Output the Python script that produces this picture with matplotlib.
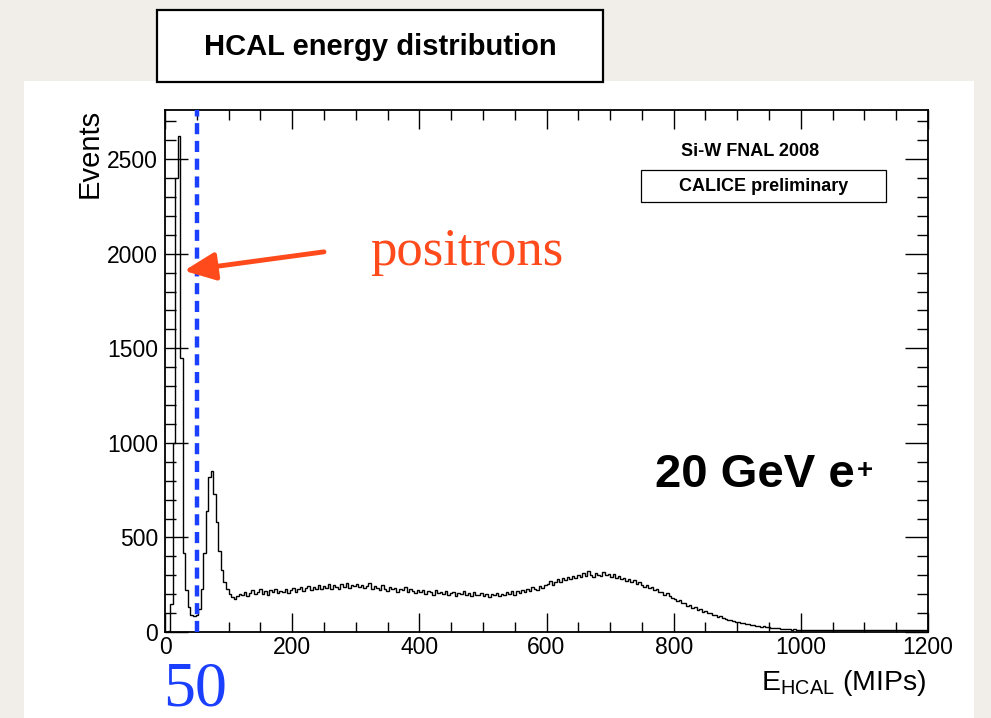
import numpy as np
import matplotlib
matplotlib.use('Agg')
from matplotlib import pyplot as plt
from matplotlib.patches import Rectangle

plt.rcParams['font.family'] = ['Liberation Sans', 'DejaVu Sans']
plt.rcParams['mathtext.fontset'] = 'custom'
plt.rcParams['mathtext.rm'] = 'Liberation Sans'
plt.rcParams['mathtext.bf'] = 'Liberation Sans:bold'

# histogram, 4 MIP bins, 0..1200
bin_width = 4
ev_0_120 = [0, 5, 150, 1000, 2400, 2625, 1450, 420, 220, 130,
            90, 82, 88, 120, 230, 420, 640, 820, 850, 730,
            580, 430, 330, 265, 225, 200, 185, 176, 188, 200]
ev_120_200 = [196, 212, 188, 205, 221, 199, 210, 226, 203, 215,
              198, 224, 209, 230, 206, 219, 212, 228, 204, 222]
ev_200_300 = [231, 209, 226, 238, 215, 232, 244, 221, 236, 228, 250, 226, 241,
              233, 256, 230, 247, 238, 226, 252, 240, 258, 234, 247, 243]
ev_300_400 = [255, 236, 249, 231, 244, 260, 228, 241, 235, 222, 246, 230, 219,
              238, 226, 233, 214, 229, 221, 236, 211, 225, 218, 207, 223]
ev_400_500 = [212, 224, 203, 217, 209, 198, 221, 206, 214, 200, 219, 195, 208,
              213, 192, 207, 201, 215, 196, 204, 189, 210, 198, 193, 205]
ev_500_600 = [190, 202, 186, 199, 194, 207, 188, 201, 196, 211, 203, 215, 198,
              219, 208, 224, 213, 230, 217, 236, 226, 222, 241, 233, 248]
ev_600_700 = [256, 271, 249, 265, 278, 262, 284, 273, 291, 279, 296, 286, 303,
              292, 311, 298, 322, 301, 289, 314, 304, 296, 318, 299, 307]
ev_700_800 = [291, 309, 283, 296, 279, 288, 270, 281, 262, 274, 256, 265, 248,
              240, 251, 233, 238, 222, 229, 210, 214, 198, 204, 189, 182]
ev_800_900 = [176, 163, 168, 151, 155, 140, 143, 128, 131, 118, 121, 107, 110,
              98, 101, 88, 91, 80, 82, 72, 70, 64, 66, 57, 55]
ev_900_1000 = [52, 46, 49, 41, 43, 37, 38, 32, 34, 28, 30, 25, 27,
               22, 23, 19, 21, 17, 18, 15, 16, 13, 15, 12, 13]
ev_1000_1100 = [12, 10, 13, 9, 11, 12, 8, 11, 10, 13, 9, 10, 12,
                8, 11, 10, 9, 12, 10, 8, 11, 9, 12, 10, 9]
ev_1100_1200 = [11, 8, 10, 12, 9, 10, 8, 11, 13, 9, 10, 8, 11,
                9, 12, 10, 8, 11, 9, 10, 12, 9, 11, 8, 10]

events = (ev_0_120 + ev_120_200 + ev_200_300 + ev_300_400 + ev_400_500 +
          ev_500_600 + ev_600_700 + ev_700_800 + ev_800_900 + ev_900_1000 +
          ev_1000_1100 + ev_1100_1200)
edges = np.arange(0, bin_width * len(events) + 1, bin_width)

cut = 50
x_max = 1200
y_max = 2760

W, H = 991, 718
blue = '#1a3fff'
red = '#ff4a1c'

fig = plt.figure(figsize=(W / 100, H / 100), dpi=100, facecolor='#f1eee9')
# white slide panel
fig.patches.append(Rectangle((24 / W, 0), (974 - 24) / W, (718 - 81) / H,
                             transform=fig.transFigure, fc='white', ec='none', zorder=-5))

ax = fig.add_axes([165 / W, 1 - 632 / H, 763 / W, 522 / H])
ax.set_zorder(1)
ax.stairs(events, edges, color='black', lw=1.0)
ax.axvline(cut, color=blue, lw=3.2, dashes=(2.5, 1.5), zorder=3)

ax.set_xlim(0, x_max)
ax.set_ylim(0, y_max)
ax.set_xticks(np.arange(0, 1201, 200))
ax.set_xticks(np.arange(0, 1201, 50), minor=True)
ax.set_yticks(np.arange(0, 2501, 500))
ax.set_yticks(np.arange(0, 2701, 100), minor=True)
for s in ax.spines.values():
    s.set_linewidth(1.3)
ax.tick_params(axis='both', which='both', direction='in', top=True, right=True,
               labelsize=16.5, width=1.0)
ax.tick_params(axis='x', which='major', length=13.5, pad=3)
ax.tick_params(axis='x', which='minor', length=7)
ax.tick_params(axis='y', which='major', length=16.5, pad=5)
ax.tick_params(axis='y', which='minor', length=8)

# titles and labels
fig.patches.append(Rectangle((157 / W, 1 - 82 / H), (603 - 157) / W, (82 - 10) / H,
                             transform=fig.transFigure, fc='white', ec='black',
                             lw=1.6, zorder=2))
fig.text(380 / W, 1 - 47 / H, 'HCAL energy distribution', ha='center', va='center',
         fontsize=21, fontweight='bold', zorder=3)
fig.text(90 / W, 1 - 109 / H, 'Events', rotation=90, ha='center', va='top', fontsize=21)
fig.text(926 / W, 1 - 690 / H, r'E$_{\mathrm{HCAL}}$ (MIPs)', ha='right', va='baseline',
         fontsize=20.5)
fig.text(163 / W, 1 - 705 / H, '50', ha='left', va='baseline', fontsize=46,
         color=blue, family='Liberation Serif')

ax.text(0.767, 0.92, 'Si-W FNAL 2008', transform=ax.transAxes, ha='center', va='center',
        fontsize=13, fontweight='bold')
ax.add_patch(Rectangle((0.624, 0.824), 0.321, 0.061, transform=ax.transAxes,
                       fc='white', ec='black', lw=0.9, zorder=4))
ax.text(0.7845, 0.854, 'CALICE preliminary', transform=ax.transAxes, ha='center',
        va='center', fontsize=13, fontweight='bold', zorder=5)

gev = ax.text(0.642, 0.278, '20 GeV e', transform=ax.transAxes, ha='left',
              va='baseline', fontsize=34, fontweight='bold')
fig.canvas.draw()
bb = gev.get_window_extent()
fig.text((bb.x1 + 2) / W, (bb.y0 + 19) / H, '+', ha='left', va='baseline',
         fontsize=20, fontweight='bold', zorder=5)

ax.text(0.269, 0.703, 'positrons', transform=ax.transAxes, ha='left', va='baseline',
        fontsize=38, color=red, family='Liberation Serif')
ax.annotate('', xy=(30, 1910), xytext=(250, 2010),
            arrowprops=dict(arrowstyle='-|>,head_length=1.9,head_width=0.85',
                            color=red, lw=3.5, shrinkA=0, shrinkB=0), zorder=4)

fig.savefig('out.png', dpi=100, facecolor=fig.get_facecolor())
